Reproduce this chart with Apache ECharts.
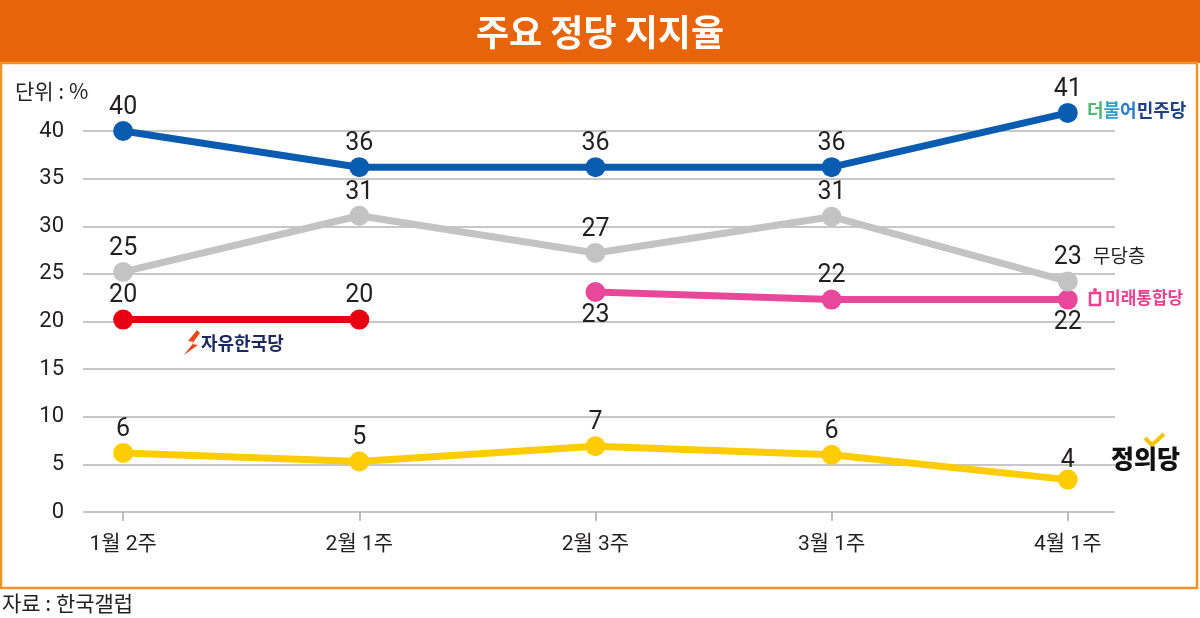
<!DOCTYPE html>
<html>
<head>
<meta charset="utf-8">
<script src="https://cdn.jsdelivr.net/npm/echarts@6/dist/echarts.min.js"></script>
<style>
  html, body { margin: 0; padding: 0; background: #fff; }
  #chart { width: 1200px; height: 618px; }
</style>
</head>
<body>
<div id="chart"></div>
<script>
// 데이터
const weeks = ['1월 2주', '2월 1주', '2월 3주', '3월 1주', '4월 1주'];
const yTicks = [0, 5, 10, 15, 20, 25, 30, 35, 40];

const minjuVals = [40, 36.2, 36.2, 36.2, 41.9];
const minjuLabels = ['40', '36', '36', '36', '41'];

const noneVals = [25.2, 31.1, 27.2, 31.0, 24.2];
const noneLabels = ['25', '31', '27', '31', '23'];

const uniteVals = [null, null, 23.1, 22.3, 22.3];
const uniteLabels = ['', '', '23', '22', '22'];
const unitePos = ['', '', 'bottom', 'top', 'bottom'];

const libertyVals = [20.2, 20.2, null, null, null];
const libertyLabels = ['20', '20', '', '', ''];

const justiceVals = [6.2, 5.3, 6.9, 6.0, 3.4];
const justiceLabels = ['6', '5', '7', '6', '4'];

const numFont = "Roboto, 'Noto Sans CJK KR', sans-serif";
const krFont = "'Noto Sans CJK KR', sans-serif";

const toData = (vals, labels, pos) => {
  const out = [];
  vals.forEach((v, i) => {
    if (v == null) return;
    const item = { value: [i, v], label: { formatter: labels[i] } };
    if (pos && pos[i]) item.label.position = pos[i];
    out.push(item);
  });
  return out;
};

const makeSeries = (name, color, data) => ({
  name: name,
  type: 'line',
  data: data,
  clip: false,
  symbol: 'circle',
  symbolSize: 20,
  lineStyle: { color: color, width: 7 },
  itemStyle: { color: color },
  label: {
    show: true,
    position: 'top',
    distance: 1,
    fontSize: 25,
    fontFamily: numFont,
    color: '#231f20'
  },
  emphasis: { disabled: true },
  animation: false
});

const justiceData = toData(justiceVals, justiceLabels);
justiceData[4].label.distance = -4;

var myChart = echarts.init(document.getElementById('chart'));

const option = {
  backgroundColor: '#fff',
  animation: false,
  title: {
    text: '주요 정당 지지율',
    left: 'center',
    top: 9,
    textStyle: { color: '#fff', fontSize: 36, fontWeight: 'bold', fontFamily: krFont }
  },
  grid: { left: 83, right: 85, top: 131, bottom: 106 },
  xAxis: {
    type: 'value',
    min: -0.17,
    max: 4.2,
    axisLine: { show: false },
    splitLine: { show: false },
    axisTick: {
      show: true,
      customValues: [0, 1, 2, 3, 4],
      length: 9,
      inside: false,
      lineStyle: { color: '#aaa', width: 1.5 }
    },
    axisLabel: {
      customValues: [0, 1, 2, 3, 4],
      formatter: (v) => weeks[Math.round(v)],
      margin: 22,
      fontSize: 21,
      fontFamily: numFont,
      color: '#231f20'
    }
  },
  yAxis: {
    type: 'value',
    min: yTicks[0],
    max: yTicks[yTicks.length - 1],
    interval: 5,
    axisLine: { show: false },
    axisTick: { show: false },
    splitLine: { lineStyle: { color: '#b5b5b5', width: 1.5 } },
    axisLabel: {
      margin: 19,
      fontSize: 22,
      fontFamily: numFont,
      color: '#231f20'
    }
  },
  series: [
    makeSeries('정의당', '#ffcc00', justiceData),
    makeSeries('자유한국당', '#e60012', toData(libertyVals, libertyLabels)),
    makeSeries('미래통합당', '#e8489a', toData(uniteVals, uniteLabels, unitePos)),
    makeSeries('무당층', '#c3c3c3', toData(noneVals, noneLabels)),
    makeSeries('더불어민주당', '#0a5cb0', toData(minjuVals, minjuLabels))
  ],
  graphic: [
    { type: 'rect', z: -1, shape: { x: 0, y: 0, width: 1200, height: 63 }, style: { fill: '#e8640a' } },
    { type: 'rect', z: -1, shape: { x: 1, y: 63, width: 1196, height: 525 }, style: { fill: 'none', stroke: '#f39224', lineWidth: 2.5 } },
    { type: 'text', left: 15, top: 81, style: { text: '단위 : %', fontSize: 21, fontFamily: krFont, fill: '#231f20' } },
    { type: 'text', left: 2, top: 593, style: { text: '자료 : 한국갤럽', fontSize: 21, fontFamily: krFont, fill: '#231f20' } },
    {
      type: 'text', left: 1087, top: 101,
      style: {
        text: '{a|더}{b|불}{c|어}{d|민주당}',
        rich: {
          a: { fill: '#4cb76e', fontSize: 18, fontWeight: 'bold', fontFamily: krFont },
          b: { fill: '#2aa3c9', fontSize: 18, fontWeight: 'bold', fontFamily: krFont },
          c: { fill: '#2a7ec4', fontSize: 18, fontWeight: 'bold', fontFamily: krFont },
          d: { fill: '#1d3f8c', fontSize: 18, fontWeight: 'bold', fontFamily: krFont }
        }
      }
    },
    { type: 'text', left: 1093, top: 246, style: { text: '무당층', fontSize: 19, fontFamily: krFont, fill: '#231f20' } },
    { type: 'rect', shape: { x: 1090, y: 293, width: 10, height: 12 }, style: { fill: 'none', stroke: '#e8418f', lineWidth: 2.5 } },
    { type: 'circle', shape: { cx: 1095, cy: 290, r: 2 }, style: { fill: '#e8418f' } },
    { type: 'text', left: 1105, top: 289, style: { text: '미래통합당', fontSize: 17, fontWeight: 'bold', fontFamily: krFont, fill: '#e8418f' } },
    { type: 'polygon', shape: { points: [[197, 330], [188, 341], [194, 342], [184, 355], [198, 345], [192, 344], [200, 333]] }, style: { fill: '#e8471c' } },
    { type: 'text', left: 201, top: 334, style: { text: '자유한국당', fontSize: 18, fontWeight: 'bold', fontFamily: krFont, fill: '#1b2a5c' } },
    { type: 'polyline', shape: { points: [[1145, 438], [1152, 445], [1164, 434]] }, style: { stroke: '#f5c400', lineWidth: 4, fill: 'none' } },
    { type: 'text', left: 1111, top: 446, style: { text: '정의당', fontSize: 25, fontWeight: 900, fontFamily: krFont, fill: '#111' } }
  ]
};

myChart.setOption(option);
</script>
</body>
</html>
